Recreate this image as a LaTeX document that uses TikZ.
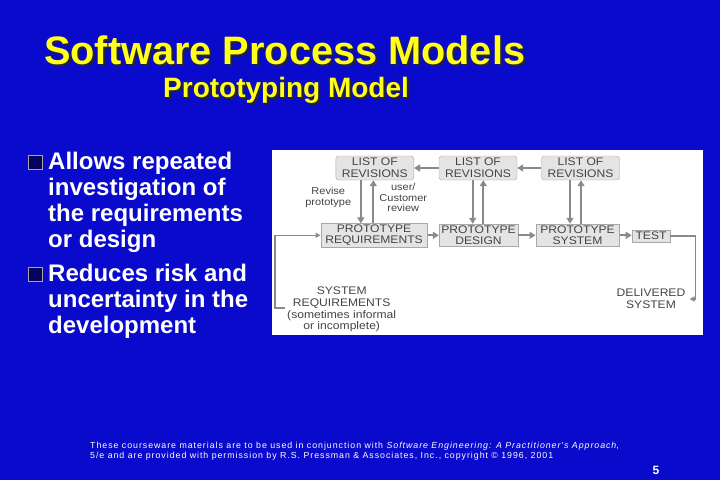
\documentclass[tikz,border=0pt]{standalone}
\usepackage{fontspec}
\setmainfont{Liberation Sans}
\newfontfamily\notefont[LetterSpace=11]{Liberation Sans}
\newfontfamily\diagfont[FakeStretch=1.1]{Liberation Sans}
\usetikzlibrary{arrows.meta}
\definecolor{slideblue}{HTML}{0A0ACC}
\definecolor{titleyellow}{HTML}{FFFF1A}
\definecolor{flowgray}{HTML}{8A8A8A}
\definecolor{boxgray}{HTML}{E4E4E4}
\definecolor{boxline}{HTML}{A8A8A8}
\definecolor{diagtext}{HTML}{444444}

% yellow text with a dark drop shadow
\newcommand\shadowtxt[1]{\rlap{\color{black!85}\hspace{2pt}\raisebox{-2pt}{#1}}#1}

\tikzset{
  titletext/.style={anchor=base west, inner sep=0pt, text=titleyellow, font=\bfseries},
  bullettext/.style={anchor=north west, inner sep=0pt, align=left, text=white,
    font=\bfseries\fontsize{24}{26}\selectfont},
  bulletbox/.style={draw=gray!70, line width=0.8pt, fill=slideblue!45!black, minimum size=14pt, inner sep=0pt},
  revbox/.style={draw=boxline, fill=boxgray, rounded corners=3pt, minimum width=78pt,
    minimum height=24pt, inner sep=1pt, align=center, text=diagtext,
    font=\diagfont\fontsize{11}{11.7}\selectfont},
  protobox/.style={draw=boxline, fill=boxgray, minimum height=22.7pt, inner sep=1pt,
    align=center, text=diagtext, font=\diagfont\fontsize{11}{11.7}\selectfont},
  plain/.style={inner sep=1pt, align=center, text=diagtext, font=\diagfont\fontsize{11}{11.7}\selectfont},
  flow/.style={draw=flowgray, line width=2.2pt, -{Triangle[width=7pt,length=6pt]}},
  loopline/.style={draw=flowgray, line width=1.3pt, -{Triangle[width=5pt,length=5pt]}}
}

\begin{document}
\begin{tikzpicture}[x=1pt,y=-1pt]
  % slide background
  \fill[slideblue] (0,0) rectangle (720,480);
  \useasboundingbox (0,0) rectangle (720,480);

  % title
  \node[titletext, font=\bfseries\fontsize{39.7}{40}\selectfont] (title) at (44,64) {\shadowtxt{Software Process Models}};
  \node[titletext, font=\bfseries\fontsize{28}{30}\selectfont] (subtitle) at (163,97) {\shadowtxt{Prototyping Model}};

  % bullets
  \node[bulletbox] (sq1) at (35.8,162.5) {};
  \node[bullettext] (bullet1) at (48,151.5) {Allows repeated\\investigation of\\the requirements\\or design};
  \node[bulletbox] (sq2) at (35.8,274.2) {};
  \node[bullettext] (bullet2) at (48,263.5) {Reduces risk and\\uncertainty in the\\development};

  % diagram panel
  \fill[white] (272,150) rectangle (703,335);

  \node[revbox] (lr1) at (374.8,168) {LIST OF\\REVISIONS};
  \node[revbox] (lr2) at (478,168) {LIST OF\\REVISIONS};
  \node[revbox] (lr3) at (580.5,168) {LIST OF\\REVISIONS};

  \node[protobox, minimum width=106.6pt] (preq) at (374,235.3) {PROTOTYPE\\REQUIREMENTS};
  \node[protobox, minimum width=79pt] (pdes) at (478.5,235.3) {PROTOTYPE\\DESIGN};
  \node[protobox, minimum width=83.6pt] (psys) at (577.5,235.3) {PROTOTYPE\\SYSTEM};
  \node[protobox, minimum width=38.3pt, minimum height=11.7pt] (test) at (651,236) {TEST};

  \node[plain, font=\diagfont\fontsize{10}{11.6}\selectfont] (revise) at (328.3,197.5) {Revise\\prototype};
  \node[plain, font=\diagfont\fontsize{10}{10.8}\selectfont] (review) at (403.3,197.5) {user/\\Customer\\review};
  \node[plain] (sysreq) at (341.7,309.5) {SYSTEM\\REQUIREMENTS\\(sometimes informal\\or incomplete)};
  \node[plain, inner sep=4pt] (delsys) at (651,299) {DELIVERED\\SYSTEM};
  \coordinate (sysin) at (285,308);

  \draw[flow] (lr2) -- (lr1);
  \draw[flow] (lr3) -- (lr2);

  \draw[flow] ([xshift=-14pt]lr1.south) -- ([xshift=-14pt]lr1.south |- preq.north);
  \draw[flow] ([xshift=-1.5pt]lr1.south |- preq.north) -- ([xshift=-1.5pt]lr1.south);
  \draw[flow] ([xshift=-5.3pt]lr2.south) -- ([xshift=-5.3pt]lr2.south |- pdes.north);
  \draw[flow] ([xshift=5.3pt]lr2.south |- pdes.north) -- ([xshift=5.3pt]lr2.south);
  \draw[flow] ([xshift=-10.5pt]lr3.south) -- ([xshift=-10.5pt]lr3.south |- psys.north);
  \draw[flow] ([xshift=0.5pt]lr3.south |- psys.north) -- ([xshift=0.5pt]lr3.south);

  \draw[flow] (preq) -- (pdes);
  \draw[flow] (pdes) -- (psys);
  \draw[flow] (psys.east) -- (psys.east -| test.west);

  \draw[loopline] (sysin) -- ++(-10,0) |- (preq.west);
  \draw[loopline] (test.east) -- ++(25,0) |- (delsys.east);

  % footer
  \node[anchor=north west, inner sep=0pt, align=left, text=white, font=\notefont\fontsize{8.8}{10}\selectfont] (note) at (90,442)
    {These courseware materials are to be used in conjunction with \textit{Software Engineering: A Practitioner's Approach},\\
     5/e and are provided with permission by R.S. Pressman \& Associates, Inc., copyright \textcopyright{} 1996, 2001};
  \node[text=white, inner sep=0pt, font=\bfseries\fontsize{12}{12}\selectfont] (pagenum) at (656,470.5) {5};
\end{tikzpicture}
\end{document}
